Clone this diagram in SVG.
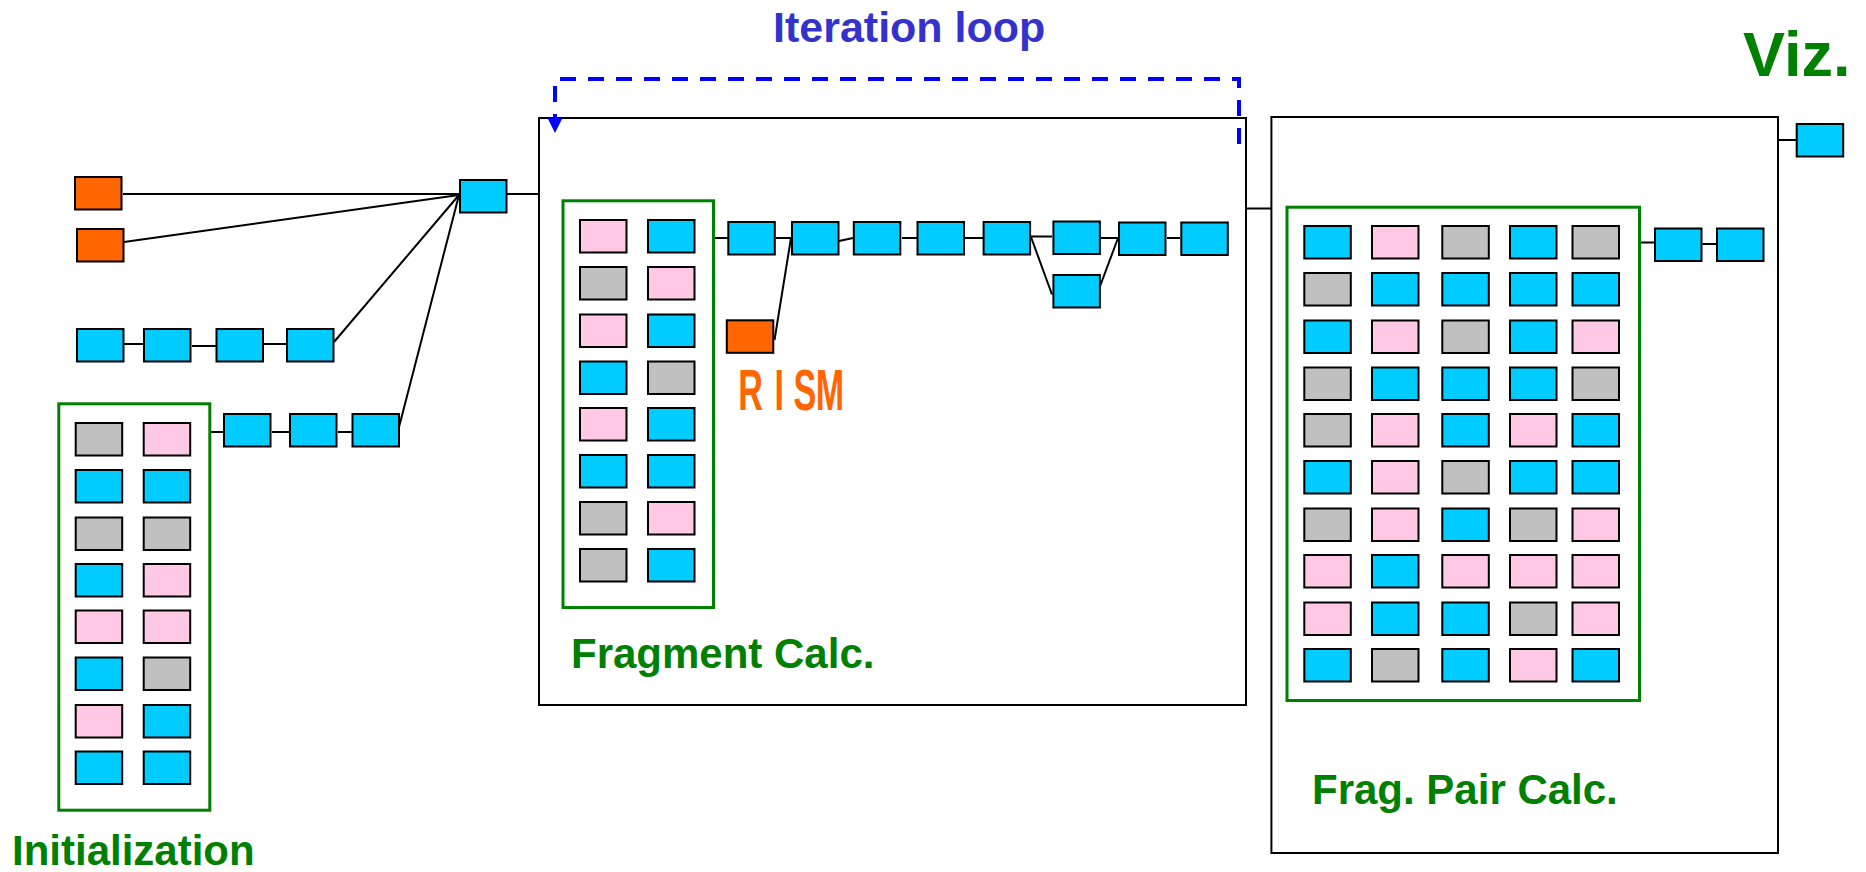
<svg xmlns="http://www.w3.org/2000/svg" width="1866" height="872" viewBox="0 0 1866 872">
  <style>
    .b { stroke: #000; stroke-width: 2; }
    .cy { fill: #00CCFF; }
    .pk { fill: #FFC8E4; }
    .gy { fill: #C0C0C0; }
    .or { fill: #FF6600; }
    .frame { fill: none; stroke: #000; stroke-width: 2; }
    .grp { fill: none; stroke: #008000; stroke-width: 3; }
    .lbl { font-family: "Liberation Sans", Arial, sans-serif; font-weight: bold; fill: #008000; }
    .conn line { stroke: #000; stroke-width: 2; }
  </style>
  <defs>
    <!-- unit cell: outer size approx 48.5 x 34.5 with stroke -->
    <rect id="cell" x="1" y="1" width="46.5" height="32.5"/>
    <marker id="loopArrow" markerUnits="userSpaceOnUse" markerWidth="16" markerHeight="16" refX="0" refY="7.5" orient="auto" viewBox="0 0 16 16">
      <path d="M0,0 L15,7.5 L0,15 Z" fill="#0000FF"/>
    </marker>
  </defs>

  <rect width="1866" height="872" fill="#fff"/>

  <!-- stage frames -->
  <g id="fragment-stage">
    <rect class="frame" x="539" y="118" width="707" height="587"/>
    <text class="lbl" x="571" y="668" font-size="42">Fragment Calc.</text>
  </g>
  <g id="pair-stage">
    <rect class="frame" x="1271.4" y="117" width="506.6" height="736"/>
    <text class="lbl" x="1312" y="804" font-size="42">Frag. Pair Calc.</text>
  </g>

  <!-- iteration loop -->
  <g id="iteration-loop">
    <path d="M1239,144 V79 H555 V118" fill="none" stroke="#0000FF" stroke-width="4" stroke-dasharray="16 12" marker-end="url(#loopArrow)"/>
    <text x="773" y="42" font-family="Liberation Sans, Arial, sans-serif" font-weight="bold" font-size="43" fill="#3333CC">Iteration loop</text>
  </g>

  <!-- connectors -->
  <g id="connectors" class="conn">
    <line x1="123" y1="194" x2="459" y2="194"/>
    <line x1="124" y1="242" x2="459" y2="195"/>
    <line x1="334" y1="342" x2="459" y2="195"/>
    <line x1="398" y1="431" x2="459" y2="195"/>
    <line x1="507" y1="194" x2="539" y2="194"/>
    <line x1="124" y1="344" x2="143" y2="344"/>
    <line x1="192" y1="346" x2="216" y2="346"/>
    <line x1="264" y1="344" x2="286" y2="344"/>
    <line x1="211" y1="432" x2="223" y2="432"/>
    <line x1="272" y1="432" x2="289" y2="432"/>
    <line x1="338" y1="432" x2="352" y2="432"/>
    <line x1="715" y1="238" x2="728" y2="238"/>
    <line x1="776" y1="238" x2="791" y2="238"/>
    <line x1="839" y1="241" x2="853" y2="238"/>
    <line x1="902" y1="238" x2="917" y2="238"/>
    <line x1="965" y1="238" x2="983" y2="238"/>
    <line x1="1031" y1="236.5" x2="1052" y2="236.5"/>
    <line x1="1101" y1="238" x2="1118" y2="238"/>
    <line x1="1167" y1="238" x2="1180" y2="238"/>
    <line x1="1031" y1="237" x2="1052" y2="294.5"/>
    <line x1="1099" y1="289" x2="1118" y2="238"/>
    <line x1="774.5" y1="340" x2="791" y2="238"/>
    <line x1="1247" y1="208.5" x2="1271" y2="208.5"/>
    <line x1="1641" y1="242.5" x2="1654" y2="242.5"/>
    <line x1="1702.5" y1="244" x2="1716" y2="244"/>
    <line x1="1779" y1="140" x2="1796" y2="140"/>
  </g>

  <!-- initialization inputs -->
  <g id="init-input-1"><use href="#cell" class="b or" x="74" y="176"/></g>
  <g id="init-input-2"><use href="#cell" class="b or" x="76" y="228"/></g>
  <g id="init-hub"><use href="#cell" class="b cy" x="459" y="179"/></g>

  <g id="init-chain-a">
    <use href="#cell" class="b cy" x="76" y="328"/>
    <use href="#cell" class="b cy" x="143" y="328"/>
    <use href="#cell" class="b cy" x="215.5" y="328"/>
    <use href="#cell" class="b cy" x="286" y="328"/>
  </g>
  <g id="init-chain-b">
    <use href="#cell" class="b cy" x="223" y="413"/>
    <use href="#cell" class="b cy" x="289" y="413"/>
    <use href="#cell" class="b cy" x="351.5" y="413"/>
  </g>

  <!-- initialization grid -->
  <g id="init-grid">
    <rect class="grp" x="58.8" y="403.8" width="151" height="406.4"/>
    <use href="#cell" class="b gy" x="74.7" y="422"/><use href="#cell" class="b pk" x="142.7" y="422"/>
    <use href="#cell" class="b cy" x="74.7" y="469"/><use href="#cell" class="b cy" x="142.7" y="469"/>
    <use href="#cell" class="b gy" x="74.7" y="516.5"/><use href="#cell" class="b gy" x="142.7" y="516.5"/>
    <use href="#cell" class="b cy" x="74.7" y="563"/><use href="#cell" class="b pk" x="142.7" y="563"/>
    <use href="#cell" class="b pk" x="74.7" y="609.5"/><use href="#cell" class="b pk" x="142.7" y="609.5"/>
    <use href="#cell" class="b cy" x="74.7" y="656.5"/><use href="#cell" class="b gy" x="142.7" y="656.5"/>
    <use href="#cell" class="b pk" x="74.7" y="704"/><use href="#cell" class="b cy" x="142.7" y="704"/>
    <use href="#cell" class="b cy" x="74.7" y="750.5"/><use href="#cell" class="b cy" x="142.7" y="750.5"/>
  </g>
  <text class="lbl" x="12" y="865" font-size="42">Initialization</text>

  <!-- fragment grid -->
  <g id="fragment-grid">
    <rect class="grp" x="563" y="200.8" width="150.5" height="406.7"/>
    <use href="#cell" class="b pk" x="579" y="219"/><use href="#cell" class="b cy" x="647" y="219"/>
    <use href="#cell" class="b gy" x="579" y="266"/><use href="#cell" class="b pk" x="647" y="266"/>
    <use href="#cell" class="b pk" x="579" y="313.5"/><use href="#cell" class="b cy" x="647" y="313.5"/>
    <use href="#cell" class="b cy" x="579" y="360.5"/><use href="#cell" class="b gy" x="647" y="360.5"/>
    <use href="#cell" class="b pk" x="579" y="407"/><use href="#cell" class="b cy" x="647" y="407"/>
    <use href="#cell" class="b cy" x="579" y="454"/><use href="#cell" class="b cy" x="647" y="454"/>
    <use href="#cell" class="b gy" x="579" y="501"/><use href="#cell" class="b pk" x="647" y="501"/>
    <use href="#cell" class="b gy" x="579" y="548"/><use href="#cell" class="b cy" x="647" y="548"/>
  </g>

  <!-- fragment chain -->
  <g id="fragment-chain">
    <use href="#cell" class="b cy" x="727.3" y="221"/>
    <use href="#cell" class="b cy" x="791" y="221"/>
    <use href="#cell" class="b cy" x="852.8" y="221"/>
    <use href="#cell" class="b cy" x="916.5" y="221"/>
    <use href="#cell" class="b cy" x="982.6" y="221"/>
    <use href="#cell" class="b cy" x="1052.4" y="220.5"/>
    <use href="#cell" class="b cy" x="1118" y="221.5"/>
    <use href="#cell" class="b cy" x="1180.3" y="221.5"/>
  </g>
  <g id="fragment-branch"><use href="#cell" class="b cy" x="1052.4" y="274"/></g>

  <!-- RISM input -->
  <g id="rism">
    <use href="#cell" class="b or" x="725.8" y="319.3"/>
    <text transform="translate(741,410) scale(0.62,1.03)" font-family="Liberation Sans, Arial, sans-serif" font-weight="bold" font-size="55" fill="#FF6600"><tspan x="-4.3">R</tspan><tspan x="54">I</tspan><tspan x="84.6">S</tspan><tspan x="120.6">M</tspan></text>
  </g>

  <!-- fragment pair grid -->
  <g id="pair-grid">
    <rect class="grp" x="1287" y="207.2" width="352.5" height="493.3"/>
    <use href="#cell" class="b cy" x="1303.3" y="225"/><use href="#cell" class="b pk" x="1371" y="225"/><use href="#cell" class="b gy" x="1441.3" y="225"/><use href="#cell" class="b cy" x="1509" y="225"/><use href="#cell" class="b gy" x="1571.5" y="225"/>
    <use href="#cell" class="b gy" x="1303.3" y="272"/><use href="#cell" class="b cy" x="1371" y="272"/><use href="#cell" class="b cy" x="1441.3" y="272"/><use href="#cell" class="b cy" x="1509" y="272"/><use href="#cell" class="b cy" x="1571.5" y="272"/>
    <use href="#cell" class="b cy" x="1303.3" y="319.5"/><use href="#cell" class="b pk" x="1371" y="319.5"/><use href="#cell" class="b gy" x="1441.3" y="319.5"/><use href="#cell" class="b cy" x="1509" y="319.5"/><use href="#cell" class="b pk" x="1571.5" y="319.5"/>
    <use href="#cell" class="b gy" x="1303.3" y="366.5"/><use href="#cell" class="b cy" x="1371" y="366.5"/><use href="#cell" class="b cy" x="1441.3" y="366.5"/><use href="#cell" class="b cy" x="1509" y="366.5"/><use href="#cell" class="b gy" x="1571.5" y="366.5"/>
    <use href="#cell" class="b gy" x="1303.3" y="413"/><use href="#cell" class="b pk" x="1371" y="413"/><use href="#cell" class="b cy" x="1441.3" y="413"/><use href="#cell" class="b pk" x="1509" y="413"/><use href="#cell" class="b cy" x="1571.5" y="413"/>
    <use href="#cell" class="b cy" x="1303.3" y="460"/><use href="#cell" class="b pk" x="1371" y="460"/><use href="#cell" class="b gy" x="1441.3" y="460"/><use href="#cell" class="b cy" x="1509" y="460"/><use href="#cell" class="b cy" x="1571.5" y="460"/>
    <use href="#cell" class="b gy" x="1303.3" y="507.5"/><use href="#cell" class="b pk" x="1371" y="507.5"/><use href="#cell" class="b cy" x="1441.3" y="507.5"/><use href="#cell" class="b gy" x="1509" y="507.5"/><use href="#cell" class="b pk" x="1571.5" y="507.5"/>
    <use href="#cell" class="b pk" x="1303.3" y="554"/><use href="#cell" class="b cy" x="1371" y="554"/><use href="#cell" class="b pk" x="1441.3" y="554"/><use href="#cell" class="b pk" x="1509" y="554"/><use href="#cell" class="b pk" x="1571.5" y="554"/>
    <use href="#cell" class="b pk" x="1303.3" y="601.5"/><use href="#cell" class="b cy" x="1371" y="601.5"/><use href="#cell" class="b cy" x="1441.3" y="601.5"/><use href="#cell" class="b gy" x="1509" y="601.5"/><use href="#cell" class="b pk" x="1571.5" y="601.5"/>
    <use href="#cell" class="b cy" x="1303.3" y="648"/><use href="#cell" class="b gy" x="1371" y="648"/><use href="#cell" class="b cy" x="1441.3" y="648"/><use href="#cell" class="b pk" x="1509" y="648"/><use href="#cell" class="b cy" x="1571.5" y="648"/>
  </g>

  <!-- pair chain -->
  <g id="pair-chain">
    <use href="#cell" class="b cy" x="1654" y="227.5"/>
    <use href="#cell" class="b cy" x="1716" y="227.5"/>
  </g>

  <!-- visualization -->
  <g id="viz">
    <use href="#cell" class="b cy" x="1795.7" y="123"/>
    <text class="lbl" x="1743" y="75.5" font-size="63">Viz.</text>
  </g>
</svg>
